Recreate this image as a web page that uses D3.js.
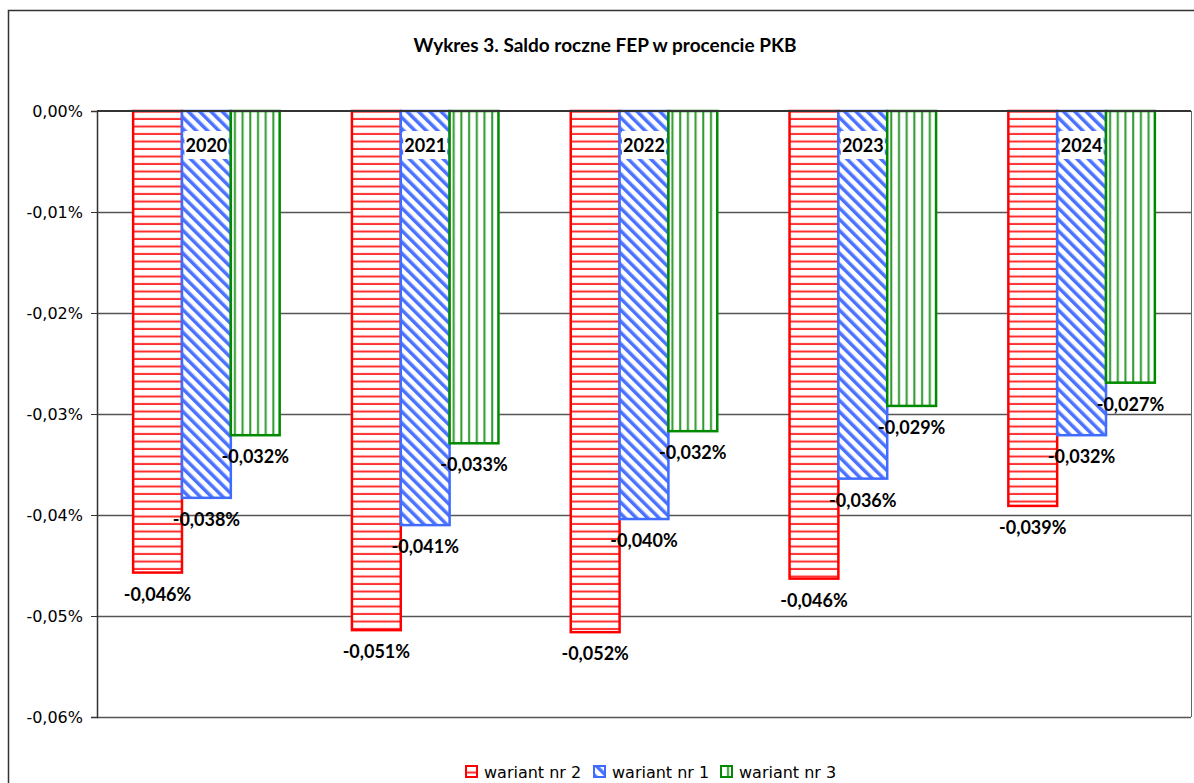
<!DOCTYPE html>
<html>
<head>
<meta charset="utf-8">
<script src="https://cdn.jsdelivr.net/npm/d3@7"></script>
<style>
  body { margin: 0; background: #fff; }
  .chart { width: 1194px; height: 783px; }
</style>
</head>
<body>
<div class="chart"></div>
<script>
// values are in percent of GDP
const years = ['2020', '2021', '2022', '2023', '2024'];
const seriesNames = ['wariant nr 2', 'wariant nr 1', 'wariant nr 3'];
const wariant2 = [-0.0457, -0.0514, -0.0516, -0.0463, -0.0391];
const wariant1 = [-0.0383, -0.0410, -0.0404, -0.0364, -0.0321];
const wariant3 = [-0.0321, -0.0329, -0.0317, -0.0292, -0.0269];
const yTicks = [0, -0.01, -0.02, -0.03, -0.04, -0.05, -0.06];

const colors = ['#ff0000', '#3f6bff', '#008a00'];
const patternIds = ['pat-red', 'pat-blue', 'pat-green'];
const seriesValues = [wariant2, wariant1, wariant3];

const svg = d3.select('.chart')
  .append('svg')
  .attr('width', 1194)
  .attr('height', 783);

const margins = { left: 97, right: 3, top: 111, bottom: 66 };
const width = 1194, height = 783;

// patterns
const defs = svg.append('defs');
const pRed = defs.append('pattern')
  .attr('id', 'pat-red')
  .attr('patternUnits', 'userSpaceOnUse')
  .attr('width', 8).attr('height', 7.5);
pRed.append('rect').attr('width', 8).attr('height', 7.5).attr('fill', '#fff');
pRed.append('rect').attr('y', 5.5).attr('width', 8).attr('height', 2).attr('fill', '#ff3030');

const pBlue = defs.append('pattern')
  .attr('id', 'pat-blue')
  .attr('patternUnits', 'userSpaceOnUse')
  .attr('width', 8).attr('height', 8)
  .attr('patternTransform', 'rotate(-45)');
pBlue.append('rect').attr('width', 8).attr('height', 8).attr('fill', '#fff');
pBlue.append('rect').attr('width', 3.5).attr('height', 8).attr('fill', '#4a72ff');

const pGreen = defs.append('pattern')
  .attr('id', 'pat-green')
  .attr('patternUnits', 'userSpaceOnUse')
  .attr('width', 7.7).attr('height', 8)
  .attr('x', 1);
pGreen.append('rect').attr('width', 7.7).attr('height', 8).attr('fill', '#fff');
pGreen.append('rect').attr('x', 5).attr('width', 2).attr('height', 8).attr('fill', '#2b9a2b');

// outer frame
svg.append('path')
  .attr('d', 'M8.5,783 L8.5,10.5 L1194,10.5')
  .attr('fill', 'none')
  .attr('stroke', '#333')
  .attr('stroke-width', 1.5);

svg.append('text')
  .attr('x', 605)
  .attr('y', 52)
  .attr('text-anchor', 'middle')
  .style('font-family', 'Lato, "Open Sans", sans-serif')
  .style('font-weight', 'bold')
  .style('font-size', '19px')
  .text('Wykres 3. Saldo roczne FEP w procencie PKB');

const x0 = d3.scaleBand()
  .domain(years)
  .range([margins.left, width - margins.right])
  .paddingInner(0)
  .paddingOuter(0);

const x1 = d3.scaleBand()
  .domain(d3.range(3))
  .range([0, x0.bandwidth()])
  .paddingInner(0)
  .paddingOuter(0.74);

const y = d3.scaleLinear()
  .domain([0, -0.06])
  .range([margins.top, height - margins.bottom]);

const pct = digits => v => (v === 0 ? 0 : v).toFixed(digits).replace('.', ',') + '%';

// grid lines
svg.append('g')
  .selectAll('line')
  .data(yTicks.filter(t => t !== 0))
  .enter()
  .append('line')
  .attr('x1', margins.left)
  .attr('x2', width - margins.right)
  .attr('y1', d => Math.round(y(d)) + 0.5)
  .attr('y2', d => Math.round(y(d)) + 0.5)
  .attr('stroke', '#555')
  .attr('stroke-width', 1.3);

// y axis
const yAxis = d3.axisLeft(y)
  .tickValues(yTicks)
  .tickSize(6)
  .tickFormat(pct(2));

const yG = svg.append('g')
  .attr('transform', `translate(${margins.left}, 0)`)
  .call(yAxis);
yG.select('.domain').attr('stroke', '#333').attr('stroke-width', 1.5);
yG.selectAll('.tick line').attr('stroke', '#333');
yG.selectAll('.tick text')
  .attr('x', -14)
  .style('font-family', '"DejaVu Sans", sans-serif')
  .style('font-size', '16px')
  .attr('fill', '#000');

// right border of plot
svg.append('line')
  .attr('x1', width - margins.right + 0.5)
  .attr('x2', width - margins.right + 0.5)
  .attr('y1', margins.top)
  .attr('y2', height - margins.bottom)
  .attr('stroke', '#666');

// bars
const groups = svg.append('g')
  .selectAll('g')
  .data(years)
  .enter()
  .append('g')
  .attr('transform', d => `translate(${x0(d)}, 0)`);

groups.selectAll('rect')
  .data((d, i) => seriesValues.map((s, k) => ({ k: k, v: s[i] })))
  .enter()
  .append('rect')
  .attr('x', d => x1(d.k))
  .attr('y', y(0))
  .attr('width', x1.bandwidth())
  .attr('height', d => y(d.v) - y(0))
  .attr('fill', d => `url(#${patternIds[d.k]})`)
  .attr('stroke', d => colors[d.k])
  .attr('stroke-width', 2.5);

// category axis on top (zero line)
svg.append('line')
  .attr('x1', margins.left)
  .attr('x2', width - margins.right)
  .attr('y1', y(0))
  .attr('y2', y(0))
  .attr('stroke', '#333')
  .attr('stroke-width', 2);

// value labels
groups.selectAll('text.val')
  .data((d, i) => seriesValues.map((s, k) => ({ k: k, v: s[i] })))
  .enter()
  .append('text')
  .classed('val', true)
  .attr('x', d => x1(d.k) + x1.bandwidth() / 2)
  .attr('y', d => y(d.v) + 28)
  .attr('text-anchor', 'middle')
  .style('font-family', 'Lato, "Open Sans", sans-serif')
  .style('font-weight', 'bold')
  .style('font-size', '18px')
  .text(d => pct(3)(d.v));

// year labels with white box
groups.append('rect')
  .attr('x', x1(1) + x1.bandwidth() / 2 - 22)
  .attr('y', 131)
  .attr('width', 44)
  .attr('height', 28)
  .attr('fill', '#fff');

groups.append('text')
  .attr('x', x1(1) + x1.bandwidth() / 2)
  .attr('y', 152)
  .attr('text-anchor', 'middle')
  .style('font-family', 'Lato, "Open Sans", sans-serif')
  .style('font-weight', 'bold')
  .style('font-size', '18px')
  .text(d => d);

// legend
const legendX = [466, 594, 721];
const legend = svg.append('g')
  .selectAll('g')
  .data(seriesNames)
  .enter()
  .append('g')
  .attr('transform', (d, i) => `translate(${legendX[i]}, 766)`);

legend.append('rect')
  .attr('width', 11)
  .attr('height', 11)
  .attr('fill', (d, i) => `url(#${patternIds[i]})`)
  .attr('stroke', (d, i) => colors[i])
  .attr('stroke-width', 2);

legend.append('text')
  .attr('x', 18)
  .attr('y', 12)
  .style('font-family', '"DejaVu Sans", sans-serif')
  .style('font-size', '16px')
  .text(d => d);
</script>
</body>
</html>
